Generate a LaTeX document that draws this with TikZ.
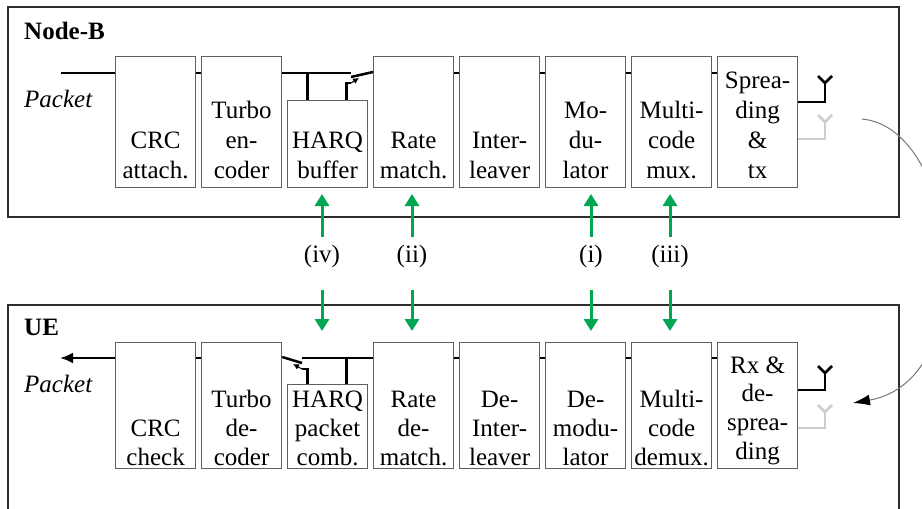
\documentclass[tikz,border=0pt]{standalone}
\usepackage{fontspec}
\setmainfont{LiberationSerif}[Extension=.ttf, UprightFont=*-Regular, BoldFont=*-Bold, ItalicFont=*-Italic, BoldItalicFont=*-BoldItalic]
\usetikzlibrary{arrows.meta,calc}
\definecolor{grn}{RGB}{0,166,81}
\definecolor{boxc}{RGB}{95,95,95}
\definecolor{framec}{RGB}{45,45,45}
\definecolor{antgray}{RGB}{205,205,205}
\definecolor{curvec}{RGB}{120,120,120}
\newcommand\blktext[1]{\begin{tabular}[b]{@{}c@{}}#1\end{tabular}}
\begin{document}
\begin{tikzpicture}[x=1pt,y=-1pt,
  blk/.style={draw=boxc, line width=1.2pt, anchor=north west, minimum width=80pt, inner sep=0pt},
  txtb/.style={font=\fontsize{25}{30}\selectfont, anchor=base, inner sep=0pt},
  txtu/.style={font=\fontsize{25}{29}\selectfont, anchor=base, inner sep=0pt},
  lbl/.style={font=\fontsize{25}{30}\selectfont, anchor=base, inner sep=0pt},
  conn/.style={draw=black, line width=2.5pt},
  antg/.style={draw=antgray, line width=2.5pt},
  frame/.style={draw=framec, line width=1.4pt},
  garrow/.style={draw=grn, line width=3pt, -{Triangle[length=12pt,width=14pt]}},
  swtip/.style={draw=black, line width=1pt, -{Latex[length=6pt,width=6pt]}}
]
\clip (0,0) rectangle (922,509);
\fill[white] (0,0) rectangle (922,509);

% frames
\draw[frame] (8,7) rectangle (899,217);
\draw[frame] (8,530) -- (8,305) -- (899,305) -- (899,530);

\node[anchor=base west, inner sep=0pt, font=\fontsize{25}{30}\selectfont\bfseries] (nb) at (24,39) {Node-B};
\node[anchor=base west, inner sep=0pt, font=\fontsize{25}{30}\selectfont\bfseries] (ue) at (24,335) {UE};
\node[anchor=base west, inner sep=0pt, font=\fontsize{25}{30}\selectfont\itshape] (pk1) at (24,107) {Packet};
\node[anchor=base west, inner sep=0pt, font=\fontsize{25}{30}\selectfont\itshape] (pk2) at (24,392) {Packet};

% Node-B boxes
\node[blk, minimum height=131pt] (crc) at (115,56) {};
\node[blk, minimum height=131pt] (turbo) at (201,56) {};
\node[blk, minimum height=87pt] (harqb) at (287,100) {};
\node[blk, minimum height=131pt] (rate) at (373,56) {};
\node[blk, minimum height=131pt] (inter) at (459,56) {};
\node[blk, minimum height=131pt] (mod) at (545,56) {};
\node[blk, minimum height=131pt] (mux) at (631,56) {};
\node[blk, minimum height=131pt] (spr) at (717,56) {};

\node[txtb] (crc-t) at ($(crc.south)+(0,-10)$) {\blktext{CRC\\attach.}};
\node[txtb] (turbo-t) at ($(turbo.south)+(0,-10)$) {\blktext{Turbo\\en-\\coder}};
\node[txtb] (harqb-t) at ($(harqb.south)+(0,-10)$) {\blktext{HARQ\\buffer}};
\node[txtb] (rate-t) at ($(rate.south)+(0,-10)$) {\blktext{Rate\\match.}};
\node[txtb] (inter-t) at ($(inter.south)+(0,-10)$) {\blktext{Inter-\\leaver}};
\node[txtb] (mod-t) at ($(mod.south)+(0,-10)$) {\blktext{Mo-\\du-\\lator}};
\node[txtb] (mux-t) at ($(mux.south)+(0,-10)$) {\blktext{Multi-\\code\\mux.}};
\node[txtb] (spr-t) at ($(spr.south)+(0,-10)$) {\blktext{Sprea-\\ding\\\&\\tx}};

% UE boxes
\node[blk, minimum height=126pt] (crcu) at (115,342) {};
\node[blk, minimum height=126pt] (turbou) at (201,342) {};
\node[blk, minimum height=84pt] (harqu) at (287,384) {};
\node[blk, minimum height=126pt] (rateu) at (373,342) {};
\node[blk, minimum height=126pt] (interu) at (459,342) {};
\node[blk, minimum height=126pt] (modu) at (545,342) {};
\node[blk, minimum height=126pt] (muxu) at (631,342) {};
\node[blk, minimum height=126pt] (rx) at (717,342) {};

\node[txtu] (crcu-t) at ($(crcu.south)+(0,-4)$) {\blktext{CRC\\check}};
\node[txtu] (turbou-t) at ($(turbou.south)+(0,-4)$) {\blktext{Turbo\\de-\\coder}};
\node[txtu] (harqu-t) at ($(harqu.south)+(0,-4)$) {\blktext{HARQ\\packet\\comb.}};
\node[txtu] (rateu-t) at ($(rateu.south)+(0,-4)$) {\blktext{Rate\\de-\\match.}};
\node[txtu] (interu-t) at ($(interu.south)+(0,-4)$) {\blktext{De-\\Inter-\\leaver}};
\node[txtu] (modu-t) at ($(modu.south)+(0,-4)$) {\blktext{De-\\modu-\\lator}};
\node[txtu] (muxu-t) at ($(muxu.south)+(0,-4)$) {\blktext{Multi-\\code\\demux.}};
\node[txtu, font=\fontsize{25}{28.7}\selectfont] (rx-t) at ($(rx.south)+(0,-10)$) {\blktext{Rx \&\\de-\\sprea-\\ding}};

% Node-B connectors
\coordinate (yb) at (0,73);
\coordinate (pkin) at (61,73);
\draw[conn] (pkin) -- (crc.west |- yb);
\draw[conn] (crc.east |- yb) -- (turbo.west |- yb);
\draw[conn] (rate.east |- yb) -- (inter.west |- yb);
\draw[conn] (inter.east |- yb) -- (mod.west |- yb);
\draw[conn] (mod.east |- yb) -- (mux.west |- yb);
\draw[conn] (mux.east |- yb) -- (spr.west |- yb);
% HARQ switch Node-B
\coordinate (swb) at (351,73);
\coordinate (swbfree) at (351,77);
\coordinate (swbend) at (351,83);
\coordinate (swbtip) at (359,78);
\draw[conn] (turbo.east |- yb) -- (swb);
\draw[conn] ($(harqb.north)+(-20,0)$) -- ($(harqb.north)+(-20,-27)$);
\draw[conn, line cap=butt] (swbfree) -- ($(rate.west |- yb)+(0,-1)$);
\draw[conn] ($(harqb.north)+(19,0)$) |- (swbend);
\draw[swtip] (swbend) -- (swbtip);

% UE connectors
\coordinate (yu) at (0,358);
\coordinate (pkout) at (60,358);
\draw[conn, -{Latex[length=13pt,width=11pt]}] (crcu.west |- yu) -- (pkout);
\draw[conn] (crcu.east |- yu) -- (turbou.west |- yu);
\draw[conn] (rateu.east |- yu) -- (interu.west |- yu);
\draw[conn] (interu.east |- yu) -- (modu.west |- yu);
\draw[conn] (modu.east |- yu) -- (muxu.west |- yu);
\draw[conn] (muxu.east |- yu) -- (rx.west |- yu);
% HARQ switch UE
\coordinate (swu) at (302,358);
\coordinate (swufree) at (302,363);
\coordinate (swuend) at (302,369);
\coordinate (swutip) at (293,364);
\draw[conn] (swu) -- (rateu.west |- yu);
\draw[conn] ($(harqu.north)+(19,0)$) -- ($(harqu.north)+(19,-26)$);
\draw[conn, line cap=butt] (turbou.east |- 0,357) -- (swufree);
\draw[conn] ($(harqu.north)+(-20,0)$) |- (swuend);
\draw[swtip] (swuend) -- (swutip);

% antennas Node-B
\coordinate (atb) at (825,83);
\coordinate (agb) at (825,122);
\draw[conn] (spr.east |- 0,102) -| (atb);
\draw[conn] ($(atb)+(-7,-7)$) -- (atb) -- ($(atb)+(7,-7)$);
\draw[antg] (spr.east |- 0,139) -| (agb);
\draw[antg] ($(agb)+(-7,-7)$) -- (agb) -- ($(agb)+(7,-7)$);
% antennas UE
\coordinate (atu) at (825,373);
\coordinate (agu) at (825,412);
\draw[conn] (rx.east |- 0,390) -| (atu);
\draw[conn] ($(atu)+(-7,-7)$) -- (atu) -- ($(atu)+(7,-7)$);
\draw[antg] (rx.east |- 0,428) -| (agu);
\draw[antg] ($(agu)+(-7,-7)$) -- (agu) -- ($(agu)+(7,-7)$);

% radio link curve
\coordinate (cs) at (862,119);
\coordinate (ce) at (853,403);
\draw[draw=curvec, line width=1pt, -{Latex[length=17pt,width=11pt,color=black,fill=black]}] (cs) .. controls (960,128) and (985,380) .. (ce);

% signalling labels and green arrows
\node[lbl] (l-iv) at (322,262) {(iv)};
\node[lbl] (l-ii) at (412,262) {(ii)};
\node[lbl] (l-i) at (591,262) {(i)};
\node[lbl] (l-iii) at (670,262) {(iii)};
\foreach \n in {l-iv,l-ii,l-i,l-iii}{
  \draw[garrow] ($(\n.base)+(0,-25)$) -- ($(\n.base)+(0,-68)$);
  \draw[garrow] ($(\n.base)+(0,28)$) -- ($(\n.base)+(0,69)$);
}
\end{tikzpicture}
\end{document}
